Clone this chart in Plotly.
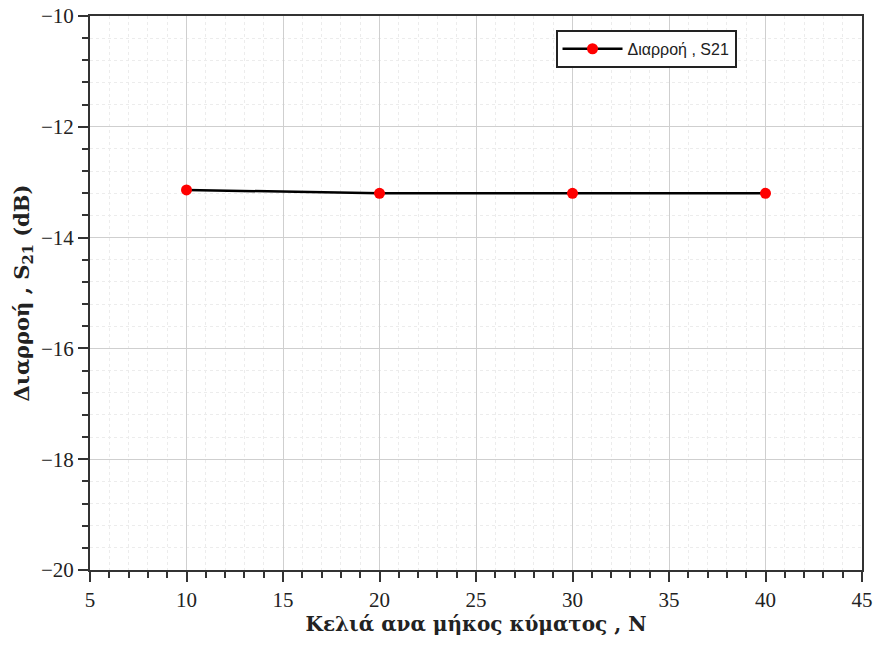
import plotly.graph_objects as go

cells = [10, 20, 30, 40]
s21 = [-13.14, -13.2, -13.2, -13.2]
series_name = "Διαρροή , S21"

fig = go.Figure()
fig.add_trace(go.Scatter(
    x=cells, y=s21, mode="lines+markers", name=series_name,
    line=dict(color="black", width=2.5),
    marker=dict(color="#ff0000", size=11),
))

axis_common = dict(
    showline=True, linecolor="#333", linewidth=2, mirror=True,
    ticks="outside", tickcolor="#333", tickwidth=2, ticklen=10,
    showgrid=True, gridcolor="#cfcfcf", gridwidth=1,
    zeroline=False, automargin=False,
    tickfont=dict(family="Liberation Serif", size=21, color="#222"),
)

fig.update_xaxes(
    range=[5, 45], dtick=5, tick0=5,
    minor=dict(dtick=1, ticks="outside", ticklen=6, tickcolor="#333", tickwidth=2,
               showgrid=True, gridcolor="#ececec", griddash="dot", gridwidth=1),
    title=dict(text="<b>Κελιά ανα μήκος κύματος , N</b>", standoff=4,
               font=dict(family="DejaVu Serif", size=20, color="#222")),
    **axis_common,
)
fig.update_yaxes(
    range=[-20, -10], dtick=2, tick0=-20,
    minor=dict(dtick=0.4, ticks="outside", ticklen=6, tickcolor="#333", tickwidth=2,
               showgrid=True, gridcolor="#ececec", griddash="dot", gridwidth=1),
    title=dict(text="<b>Διαρροή , S<sub>21</sub> (dB)</b>", standoff=6,
               font=dict(family="DejaVu Serif", size=21, color="#222")),
    **axis_common,
)

fig.update_layout(
    width=877, height=645,
    margin=dict(l=90, r=15, t=16, b=75),
    plot_bgcolor="white", paper_bgcolor="white",
    showlegend=True,
    legend=dict(x=0.603, y=0.975, xanchor="left", yanchor="top",
                bordercolor="#222", borderwidth=2, bgcolor="white",
                itemwidth=60,
                font=dict(family="Liberation Sans", size=16, color="#222")),
)

fig.write_html("out.html")
